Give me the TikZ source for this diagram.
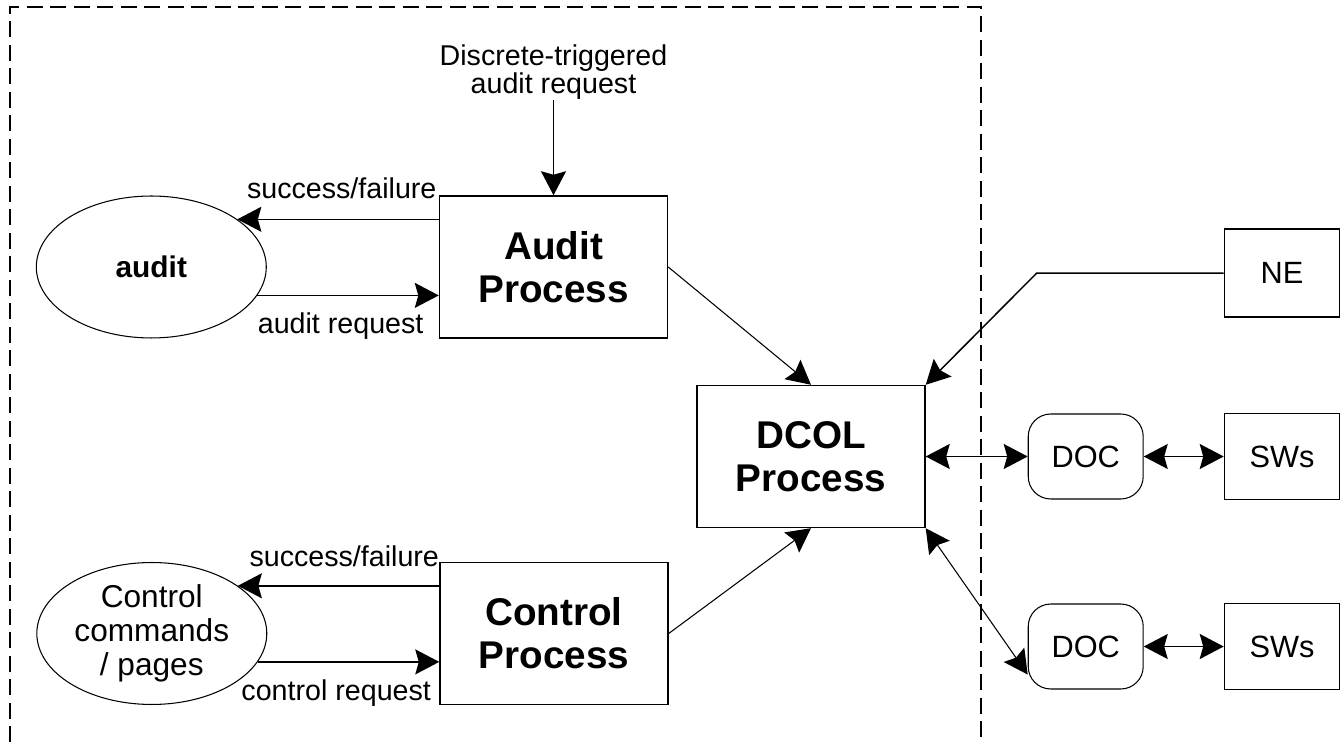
\documentclass[tikz,border=0pt]{standalone}
\usepackage{fontspec}
\setmainfont{Liberation Sans}
\usetikzlibrary{positioning,shapes.geometric,arrows.meta}

\tikzset{
  proc/.style={draw, line width=0.85pt, minimum width=4.56cm, minimum height=2.84cm,
    inner sep=0pt, align=center, font=\fontsize{22}{24.5}\selectfont\bfseries},
  store/.style={draw, ellipse, line width=0.6pt, minimum width=4.6cm, minimum height=2.84cm,
    inner sep=0pt, align=center},
  ext/.style={draw, line width=0.85pt, minimum width=2.3cm, minimum height=1.72cm,
    inner sep=0pt, font=\fontsize{17.5}{20}\selectfont},
  dev/.style={draw, rounded corners=0.45cm, line width=0.6pt, minimum width=2.3cm,
    minimum height=1.7cm, inner sep=0pt, font=\fontsize{17.5}{20}\selectfont},
  lbl/.style={font=\fontsize{16.3}{16.3}\selectfont, inner sep=0pt},
  arr/.style={-{Stealth[length=0.48cm,width=0.5cm,inset=0.07cm]}, line width=0.85pt},
  darr/.style={{Stealth[length=0.48cm,width=0.5cm,inset=0.07cm]}-{Stealth[length=0.48cm,width=0.5cm,inset=0.07cm]}, line width=0.85pt},
  frame/.style={dashed, dash pattern=on 0.32cm off 0.15cm, line width=0.85pt}
}

\begin{document}
\begin{tikzpicture}[x=0.02cm, y=-0.02cm]
  \useasboundingbox (0,0) rectangle (1340,742);

  % system boundary
  \draw[frame] (10,742) -- (10,7) -- (981,7) -- (981,742);

  \node[proc] (audp) at (553.5,267) {Audit\\Process};
  \node[store, left=3.44cm of audp, font=\fontsize{17}{18}\selectfont\bfseries] (aud) {audit};
  \node[lbl, align=center, above=1.9cm of audp] (trig) {Discrete-triggered\\audit request};

  \node[proc] (ctlp) at (554,633.5) {Control\\Process};
  \node[store, left=3.44cm of ctlp, font=\fontsize{18}{19.5}\selectfont] (ctl) {Control\\commands\\/ pages};

  \node[proc] (dcol) at (811,456.5) {DCOL\\Process};

  \node[dev, right=2.04cm of dcol] (doc1) {DOC};
  \node[ext, right=1.6cm of doc1] (sw1) {SWs};
  \node[dev, below=2.08cm of doc1] (doc2) {DOC};
  \node[ext, right=1.6cm of doc2] (sw2) {SWs};
  \node[ext, above=1.9cm of sw1, minimum height=1.76cm] (ne) {NE};

  % audit side
  \draw[arr] (trig.south) -- (audp.north);
  \draw[arr] (audp.west |- aud.29) -- (aud.29);
  \draw[arr] (aud.-15) -- (audp.west |- aud.-15);
  \node[lbl, anchor=base east] (sf1) at ([xshift=-0.04cm,yshift=-0.06cm]audp.north west) {success/failure};
  \node[lbl, anchor=base east] (ar1) at ([xshift=-0.3cm,yshift=0.1cm]audp.south west) {audit request};

  % control side
  \draw[arr] (ctlp.west |- ctl.29) -- (ctl.29);
  \draw[arr] (ctl.-15) -- (ctlp.west |- ctl.-15);
  \node[lbl, anchor=base east] (sf2) at ([xshift=0cm,yshift=-0.1cm]ctlp.north west) {success/failure};
  \node[lbl, anchor=base east] (cr2) at ([xshift=-0.16cm,yshift=0.1cm]ctlp.south west) {control request};

  % into DCOL
  \draw[arr, line width=0.6pt] (audp.east) -- (dcol.north);
  \draw[arr, line width=0.6pt] (ctlp.east) -- (dcol.south);
  \draw[arr] (ne.west) -- ([xshift=-3.74cm]ne.west) -- (dcol.north east);

  % DOC links
  \draw[darr] (dcol.east |- doc1.west) -- (doc1.west);
  \draw[darr] (doc1.east) -- (sw1.west);
  \draw[darr, line width=0.6pt] (dcol.south east) -- ([yshift=0.3cm]doc2.south west);
  \draw[darr] (doc2.east) -- (sw2.west);
\end{tikzpicture}
\end{document}
